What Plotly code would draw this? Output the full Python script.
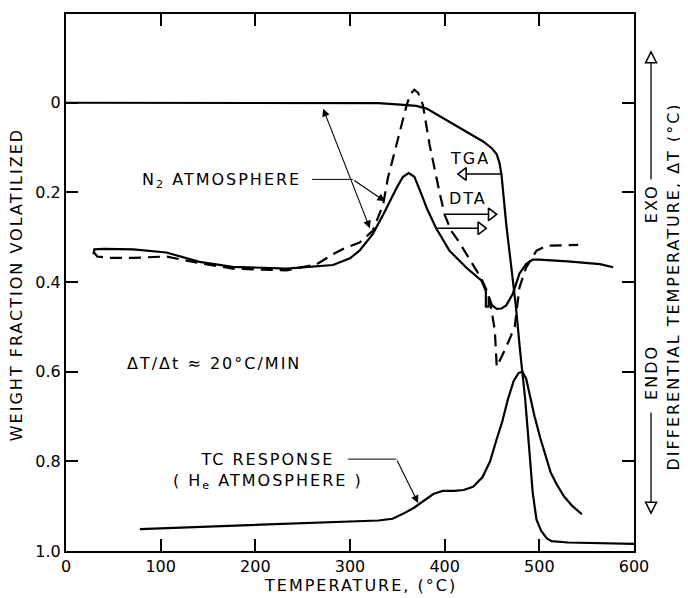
import plotly.graph_objects as go

# ---------------- data ----------------
tga_T = [0, 100, 200, 300, 330, 353, 370, 381, 405, 441, 450, 455, 458, 460, 465, 470, 475,
         480, 485, 490, 493, 497, 502, 508, 513, 530, 564, 600]
tga_w = [0, 0, 0, 0, 0.001, 0.004, 0.007, 0.013, 0.042, 0.087, 0.102, 0.115, 0.135, 0.16,
         0.27, 0.36, 0.45, 0.56, 0.66, 0.79, 0.87, 0.93, 0.955, 0.972, 0.978, 0.981, 0.982, 0.984]

dta_n2_T = [29, 30, 40, 71, 106, 141, 176, 233, 282, 300, 310, 324, 335, 342, 350, 356, 362,
            368, 373, 377, 381, 391, 405, 423, 439, 443.5, 443.5, 446.5, 446.5, 450, 455, 460,
            465, 472, 479, 486, 493, 500, 530, 564, 578]
dta_n2_w = [0.338, 0.327, 0.326, 0.327, 0.334, 0.355, 0.366, 0.37, 0.362, 0.347, 0.33, 0.293,
            0.25, 0.22, 0.187, 0.165, 0.157, 0.165, 0.19, 0.212, 0.235, 0.28, 0.33, 0.368,
            0.397, 0.42, 0.455, 0.455, 0.432, 0.452, 0.46, 0.459, 0.452, 0.426, 0.381, 0.36,
            0.35, 0.35, 0.354, 0.36, 0.367]

dta_dash_T = [29, 33, 45, 71, 106, 141, 176, 233, 265, 282, 294, 310, 324, 335, 340, 349, 355,
              360, 364, 368, 372, 377, 384, 391, 395, 400, 407, 415, 423, 439, 446, 449, 453,
              455, 465, 474, 479, 486, 497, 508, 541]
dta_dash_w = [0.332, 0.343, 0.346, 0.346, 0.343, 0.358, 0.37, 0.374, 0.36, 0.338, 0.325,
              0.312, 0.286, 0.227, 0.168, 0.093, 0.04, 0.004, -0.02, -0.029, -0.022, 0.005,
              0.093, 0.168, 0.204, 0.25, 0.286, 0.31, 0.338, 0.393, 0.426, 0.457, 0.508,
              0.589, 0.545, 0.5, 0.412, 0.368, 0.33, 0.319, 0.317]

tc_T = [78, 150, 230, 300, 330, 345, 357, 368, 378, 388, 398, 410, 420, 430, 440, 448, 455,
        461, 467, 473, 478, 482, 486, 490, 495, 501, 507, 512, 518, 526, 535, 545]
tc_w = [0.951, 0.946, 0.94, 0.934, 0.932, 0.928, 0.916, 0.903, 0.887, 0.873, 0.866, 0.866,
        0.864, 0.857, 0.835, 0.8, 0.75, 0.71, 0.66, 0.62, 0.603, 0.6, 0.615, 0.655, 0.7,
        0.748, 0.79, 0.825, 0.85, 0.878, 0.9, 0.918]

x_ticks = [0, 100, 200, 300, 400, 500, 600]
y_ticks = [0, 0.2, 0.4, 0.6, 0.8, 1.0]
y_ticktext = ["0", "0.2", "0.4", "0.6", "0.8", "1.0"]

# open-headed label arrows: (x start, x tip, y, direction)
open_arrows = [(460, 414, 0.159, "left"), (400, 455, 0.249, "right"), (392, 444, 0.28, "right")]

FONT = "DejaVu Sans"
BLK = "black"

fig = go.Figure()
fig.add_trace(go.Scatter(x=tga_T, y=tga_w, mode="lines", line=dict(color=BLK, width=2.2)))
fig.add_trace(go.Scatter(x=dta_n2_T, y=dta_n2_w, mode="lines", line=dict(color=BLK, width=2.2)))
fig.add_trace(go.Scatter(x=dta_dash_T, y=dta_dash_w, mode="lines",
                         line=dict(color=BLK, width=2.2, dash="12px,7px")))
fig.add_trace(go.Scatter(x=tc_T, y=tc_w, mode="lines", line=dict(color=BLK, width=2.2)))

# open arrows inside the plot
head_x, head_y, head_sym = [], [], []
for x0, xt, yy, d in open_arrows:
    off = 5.8 if d == "left" else -5.8
    fig.add_trace(go.Scatter(x=[x0, xt + off], y=[yy, yy], mode="lines",
                             line=dict(color=BLK, width=1.5)))
    head_x.append(xt + off)
    head_y.append(yy)
    head_sym.append("triangle-left" if d == "left" else "triangle-right")
fig.add_trace(go.Scatter(x=head_x, y=head_y, mode="markers",
                         marker=dict(symbol=head_sym, size=11, color="white",
                                     line=dict(color=BLK, width=1.6))))

shapes = [
    dict(type="line", xref="x", yref="y", x0=260, x1=303, y0=0.171, y1=0.171,
         line=dict(color=BLK, width=1)),
    dict(type="line", xref="x", yref="y", x0=298, x1=349, y0=0.795, y1=0.795,
         line=dict(color=BLK, width=1)),
    # EXO / ENDO arrows (right margin)
    dict(type="line", xref="paper", yref="paper", x0=1.03, x1=1.03, y0=0.692, y1=0.911,
         line=dict(color=BLK, width=1.3)),
    dict(type="path", xref="paper", yref="paper", xsizemode="pixel", ysizemode="pixel",
         xanchor=1.03, yanchor=0.9295, path="M 0 0 L -5.5 -11 L 5.5 -11 Z",
         fillcolor="white", line=dict(color=BLK, width=1.5)),
    dict(type="line", xref="paper", yref="paper", x0=1.03, x1=1.03, y0=0.258, y1=0.09,
         line=dict(color=BLK, width=1.3)),
    dict(type="path", xref="paper", yref="paper", xsizemode="pixel", ysizemode="pixel",
         xanchor=1.03, yanchor=0.0705, path="M 0 0 L -5.5 11 L 5.5 11 Z",
         fillcolor="white", line=dict(color=BLK, width=1.5)),
]

def sp(s, ls=2):
    return f'<span style="letter-spacing:{ls}px">{s}</span>'

def txt(x, y, s, size=16, xref="x", yref="y", angle=0, ls=2):
    return dict(x=x, y=y, xref=xref, yref=yref, text=sp(s, ls), showarrow=False,
                textangle=angle, xanchor="center", yanchor="middle",
                font=dict(family=FONT, size=size, color=BLK))

def arr(x, y, ax, ay, both=False):
    return dict(x=x, y=y, ax=ax, ay=ay, xref="x", yref="y", axref="x", ayref="y", text="",
                showarrow=True, arrowhead=2, arrowsize=1.4, arrowwidth=1.1, arrowcolor=BLK,
                arrowside="end+start" if both else "end")

annotations = [
    txt(164, 0.173, "N<sub>2</sub> ATMOSPHERE"),
    txt(426.6, 0.124, "TGA"),
    txt(424.5, 0.213, "DTA"),
    txt(156, 0.582, "ΔT/Δt ≈ 20°C/MIN"),
    txt(213, 0.822, sp("TC RESPONSE") + "<br>" + sp("( H<sub>e</sub> ATMOSPHERE )")),
    arr(337, 0.22, 303, 0.171),
    arr(321, 0.28, 271, 0.01, both=True),
    arr(372, 0.893, 349, 0.795),
    txt(-0.088, 0.495, "WEIGHT FRACTION VOLATILIZED", xref="paper", yref="paper", angle=-90),
    txt(0.519, -0.064, "TEMPERATURE, (°C)", xref="paper", yref="paper"),
    txt(1.03, 0.646, "EXO", xref="paper", yref="paper", angle=-90),
    txt(1.032, 0.332, "ENDO", xref="paper", yref="paper", angle=-90),
    txt(1.07, 0.492, "DIFFERENTIAL TEMPERATURE, ΔT (°C)", xref="paper", yref="paper",
        angle=-90, size=16, ls=2),
]

fig.update_layout(
    width=680, height=590,
    margin=dict(l=58, r=54, t=4, b=47),
    plot_bgcolor="white", paper_bgcolor="white",
    showlegend=False,
    font=dict(family=FONT, size=16, color=BLK),
    shapes=shapes,
    annotations=annotations,
    xaxis=dict(range=[0, 600], tickvals=x_ticks, ticks="inside", ticklen=12, tickwidth=1.5,
               tickcolor=BLK, showline=True, linewidth=2, linecolor=BLK, mirror="ticks",
               showgrid=False, zeroline=False, tickfont=dict(size=16)),
    yaxis=dict(range=[1.0, -0.198], tickvals=y_ticks, ticktext=y_ticktext, ticks="inside",
               ticklen=12, tickwidth=1.5, tickcolor=BLK, showline=True, linewidth=2,
               linecolor=BLK, mirror="ticks", showgrid=False, zeroline=False,
               tickfont=dict(size=16)),
)

fig.write_html("out.html")
